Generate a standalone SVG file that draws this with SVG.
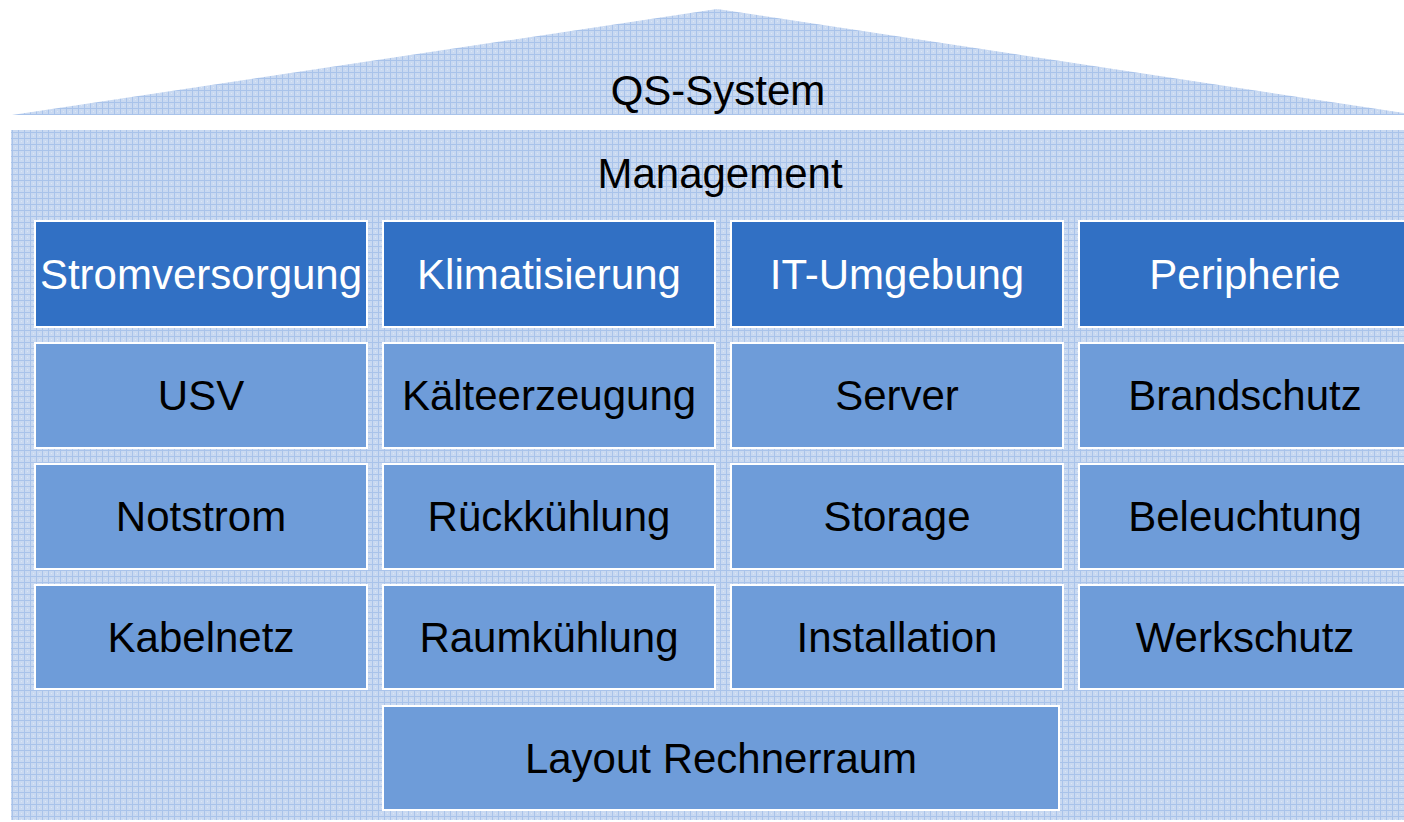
<svg xmlns="http://www.w3.org/2000/svg" width="1404" height="822" viewBox="0 0 1404 822">
  <defs>
    <!-- fine woven fabric texture for roof and building body -->
    <pattern id="weave" width="6" height="6" patternUnits="userSpaceOnUse">
      <rect width="6" height="6" fill="#c9d9f1"/>
      <rect x="0" y="0" width="6" height="1" fill="#a9c3ea"/>
      <rect x="0" y="0" width="1" height="6" fill="#a9c3ea"/>
      <rect x="3" y="3" width="1" height="1" fill="#dbe6f6"/>
    </pattern>
    <style>
      .head { fill: #3170c4; stroke: #ffffff; stroke-width: 2; }
      .item { fill: #6e9cd9; stroke: #ffffff; stroke-width: 2; }
      .lbl { font-family: "Liberation Sans", Arial, sans-serif; font-size: 42px; text-anchor: middle; fill: #000000; }
      .lbl-w { fill: #ffffff; }
    </style>
  </defs>
  <rect width="1404" height="822" fill="#ffffff"/>

  <!-- roof -->
  <g id="roof">
    <polygon points="12,115 717,9 1404,113 1404,115" fill="url(#weave)"/>
    <text class="lbl" x="718" y="105">QS-System</text>
  </g>

  <!-- building body -->
  <g id="management">
    <rect x="11" y="130" width="1400" height="690" fill="url(#weave)"/>
    <text class="lbl" x="720" y="188">Management</text>
  </g>

  <!-- column headers -->
  <g id="stromversorgung">
    <rect class="head" x="35" y="221" width="332" height="106"/>
    <text class="lbl lbl-w" x="201" y="289">Stromversorgung</text>
  </g>
  <g id="klimatisierung">
    <rect class="head" x="383" y="221" width="332" height="106"/>
    <text class="lbl lbl-w" x="549" y="289">Klimatisierung</text>
  </g>
  <g id="it-umgebung">
    <rect class="head" x="731" y="221" width="332" height="106"/>
    <text class="lbl lbl-w" x="897" y="289">IT-Umgebung</text>
  </g>
  <g id="peripherie">
    <rect class="head" x="1079" y="221" width="340" height="106"/>
    <text class="lbl lbl-w" x="1245" y="289">Peripherie</text>
  </g>

  <!-- row 1 -->
  <g id="usv">
    <rect class="item" x="35" y="343" width="332" height="105"/>
    <text class="lbl" x="201" y="410">USV</text>
  </g>
  <g id="kaelteerzeugung">
    <rect class="item" x="383" y="343" width="332" height="105"/>
    <text class="lbl" x="549" y="410">Kälteerzeugung</text>
  </g>
  <g id="server">
    <rect class="item" x="731" y="343" width="332" height="105"/>
    <text class="lbl" x="897" y="410">Server</text>
  </g>
  <g id="brandschutz">
    <rect class="item" x="1079" y="343" width="340" height="105"/>
    <text class="lbl" x="1245" y="410">Brandschutz</text>
  </g>

  <!-- row 2 -->
  <g id="notstrom">
    <rect class="item" x="35" y="464" width="332" height="105"/>
    <text class="lbl" x="201" y="531">Notstrom</text>
  </g>
  <g id="rueckkuehlung">
    <rect class="item" x="383" y="464" width="332" height="105"/>
    <text class="lbl" x="549" y="531">Rückkühlung</text>
  </g>
  <g id="storage">
    <rect class="item" x="731" y="464" width="332" height="105"/>
    <text class="lbl" x="897" y="531">Storage</text>
  </g>
  <g id="beleuchtung">
    <rect class="item" x="1079" y="464" width="340" height="105"/>
    <text class="lbl" x="1245" y="531">Beleuchtung</text>
  </g>

  <!-- row 3 -->
  <g id="kabelnetz">
    <rect class="item" x="35" y="585" width="332" height="104"/>
    <text class="lbl" x="201" y="652">Kabelnetz</text>
  </g>
  <g id="raumkuehlung">
    <rect class="item" x="383" y="585" width="332" height="104"/>
    <text class="lbl" x="549" y="652">Raumkühlung</text>
  </g>
  <g id="installation">
    <rect class="item" x="731" y="585" width="332" height="104"/>
    <text class="lbl" x="897" y="652">Installation</text>
  </g>
  <g id="werkschutz">
    <rect class="item" x="1079" y="585" width="340" height="104"/>
    <text class="lbl" x="1245" y="652">Werkschutz</text>
  </g>

  <!-- foundation -->
  <g id="layout-rechnerraum">
    <rect class="item" x="383" y="706" width="676" height="104"/>
    <text class="lbl" x="721" y="773">Layout Rechnerraum</text>
  </g>

  <g id="connectors"/>
</svg>
